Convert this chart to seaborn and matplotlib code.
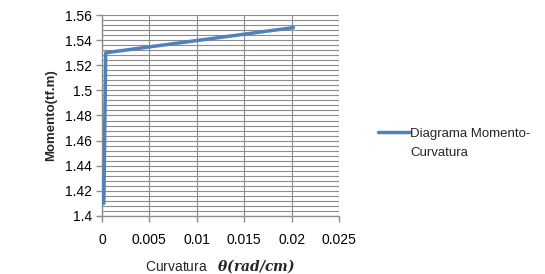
import matplotlib
matplotlib.use("Agg")
import matplotlib.pyplot as plt
import seaborn as sns
import pandas as pd
import numpy as np
from matplotlib.ticker import MultipleLocator, FuncFormatter

curvatura = [0.0002, 0.0004, 0.0202]
momento = [1.41, 1.53, 1.55]
series_line1 = "Diagrama Momento-"
series_line2 = "Curvatura"
x_ticks = [0, 0.005, 0.01, 0.015, 0.02, 0.025]
y_ticks = [1.4, 1.42, 1.44, 1.46, 1.48, 1.5, 1.52, 1.54, 1.56]

df = pd.DataFrame({"x": curvatura, "y": momento, "s": [series_line1] * len(curvatura)})

sns.set_style("white")
plt.rcParams["font.family"] = ["Liberation Sans", "DejaVu Sans"]
plt.rcParams["mathtext.fontset"] = "dejavuserif"

fig = plt.figure(figsize=(5.45, 2.74), dpi=100)
ax = fig.add_axes([0.187, 0.212, 0.435, 0.733])

grid_c = "#8c8c8c"
sns.lineplot(data=df, x="x", y="y", hue="s", palette=["#4F81BD"], sort=False,
             estimator=None, linewidth=2.5, ax=ax, zorder=3)

ax.set_xlim(0, 0.025)
ax.set_ylim(1.4, 1.56)
ax.set_xticks(x_ticks)
ax.set_yticks(y_ticks)
ax.yaxis.set_minor_locator(MultipleLocator(0.004))
ax.xaxis.set_major_formatter(FuncFormatter(lambda v, p: f"{v:g}"))
ax.yaxis.set_major_formatter(FuncFormatter(lambda v, p: f"{round(v, 3):g}"))

ax.grid(True, which="major", axis="both", color=grid_c, linewidth=0.8)
ax.grid(True, which="minor", axis="y", color=grid_c, linewidth=0.8)
for side in ["top", "right"]:
    ax.spines[side].set_visible(False)
for side in ["left", "bottom"]:
    ax.spines[side].set_color(grid_c)
    ax.spines[side].set_linewidth(1.0)
ax.tick_params(axis="both", which="major", direction="out", length=4, width=1,
               color=grid_c, labelsize=10, labelcolor="#000000", pad=3, left=True, bottom=True)
ax.tick_params(axis="x", pad=8)
ax.tick_params(axis="y", which="minor", length=0)

ax.set_ylabel("Momento(tf.m)", fontsize=9.5, fontweight="bold", labelpad=6)
ax.set_xlabel(r"Curvatura   $\mathbfit{\theta(rad/cm)}$", fontsize=10, labelpad=8)

leg = ax.legend(handles=ax.get_legend_handles_labels()[0], labels=[series_line1],
                loc="center left", bbox_to_anchor=(1.115, 0.41), frameon=False,
                fontsize=9.5, handlelength=2.4, handletextpad=0.05)

fig.canvas.draw()
t = leg.get_texts()[0]
bb = t.get_window_extent(renderer=fig.canvas.get_renderer())
inv = fig.transFigure.inverted()
x0, y0 = inv.transform((bb.x0, bb.y0))
fig.text(x0, y0 - 19 / 274, series_line2, fontsize=9.5, ha="left", va="bottom")

fig.savefig("out.png", dpi=100)
